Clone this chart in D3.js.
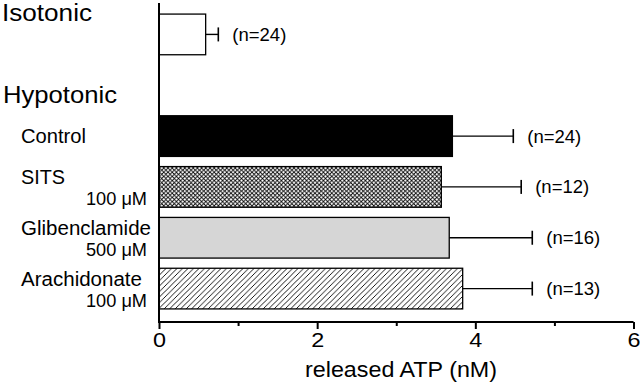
<!DOCTYPE html>
<html><head><meta charset="utf-8">
<script src="https://cdn.jsdelivr.net/npm/d3@7"></script>
<style>body{margin:0;background:#fff}svg{display:block}text{font-family:"Liberation Sans",Arial,sans-serif;fill:#000}</style>
</head><body>
<svg id="c" width="640" height="384"></svg>
<script>
const slots = ["Isotonic", "gap", "Control", "SITS", "Glibenclamide", "Arachidonate"];
const categories = ["Isotonic", "Control", "SITS", "Glibenclamide", "Arachidonate"];
const concentrations = ["", "", "100 \u03BCM", "500 \u03BCM", "100 \u03BCM"];
const means = [0.59, 3.71, 3.57, 3.67, 3.84];
const errors = [0.16, 0.77, 1.01, 1.05, 0.88];
const nLabels = ["(n=24)", "(n=24)", "(n=12)", "(n=16)", "(n=13)"];
const fills = ["white", "black", "url(#cross)", "#d6d6d6", "url(#hatch)"];
const groupHeaders = ["Isotonic", "Hypotonic"];
const xTicks = [0, 2, 4, 6];
const xMinorTicks = [1, 3, 5];
const xTitle = "released ATP (nM)";
const labelWidths = {"Control": 65, "SITS": 44, "Glibenclamide": 130, "Arachidonate": 121};

const svg = d3.select("#c");
const defs = svg.append("defs");
const cross = defs.append("pattern").attr("id","cross").attr("patternUnits","userSpaceOnUse").attr("width",4.2).attr("height",4.2);
cross.append("rect").attr("width",4.2).attr("height",4.2).attr("fill","white");
cross.append("path").attr("d","M0,0L4.2,4.2M4.2,0L0,4.2").attr("stroke","black").attr("stroke-width",0.85);
const hatch = defs.append("pattern").attr("id","hatch").attr("patternUnits","userSpaceOnUse").attr("width",5.5).attr("height",5.5);
hatch.append("rect").attr("width",5.5).attr("height",5.5).attr("fill","white");
hatch.append("path").attr("d","M0,5.5L5.5,0M-1.375,1.375L1.375,-1.375M4.125,6.875L6.875,4.125").attr("stroke","black").attr("stroke-width",0.9);

const x = d3.scaleLinear().domain([0, 6]).range([159, 633.5]);
const y = d3.scaleBand().domain(slots).range([9, 314]).paddingInner(0.2).paddingOuter(0.1);
const bw = y.bandwidth();
const cy = c => y(c) + bw / 2;

svg.selectAll("rect.bar").data(categories).join("rect").attr("class","bar")
  .attr("x", x(0)).attr("y", c => y(c))
  .attr("width", (c,i) => x(means[i]) - x(0)).attr("height", bw)
  .attr("fill", (c,i) => fills[i]).attr("stroke","black").attr("stroke-width",1.3);

categories.forEach((c,i) => {
  const e = means[i] + errors[i];
  svg.append("line").attr("x1", x(means[i])).attr("x2", x(e)).attr("y1", cy(c)).attr("y2", cy(c)).attr("stroke","black").attr("stroke-width",1.4);
  svg.append("line").attr("x1", x(e)).attr("x2", x(e)).attr("y1", cy(c)-7).attr("y2", cy(c)+7).attr("stroke","black").attr("stroke-width",1.6);
  svg.append("text").attr("x", x(e) + 14).attr("y", cy(c) + 6.5).attr("font-size", 18.5)
    .attr("textLength",54).attr("lengthAdjust","spacingAndGlyphs").text(nLabels[i]);
});

const xAxis = svg.append("g").attr("transform", `translate(0,322)`)
  .call(d3.axisBottom(x).tickValues(xTicks).tickFormat(d3.format("d")).tickSize(7).tickPadding(4));
xAxis.select(".domain").attr("stroke-width",2).attr("d", `M${x(0)},0H${x(6)}`);
xAxis.selectAll(".tick line").attr("stroke-width",2);
xAxis.selectAll(".tick text").attr("font-size",20).attr("font-family","Liberation Sans, Arial, sans-serif").attr("textLength",13).attr("lengthAdjust","spacingAndGlyphs");
svg.append("g").attr("transform", `translate(0,322)`)
  .call(d3.axisBottom(x).tickValues(xMinorTicks).tickFormat("").tickSize(4))
  .call(g => g.select(".domain").remove())
  .selectAll(".tick line").attr("stroke-width",2);
svg.append("line").attr("x1", x(0)).attr("x2", x(0)).attr("y1", 3).attr("y2", 323).attr("stroke","black").attr("stroke-width",2);

svg.append("text").attr("x", 401).attr("y", 377).attr("text-anchor","middle").attr("font-size",22)
  .attr("textLength",192).attr("lengthAdjust","spacingAndGlyphs").text(xTitle);

svg.append("text").attr("x", 2).attr("y", cy("Isotonic") - 13).attr("font-size",23)
  .attr("textLength",90).attr("lengthAdjust","spacingAndGlyphs").text(groupHeaders[0]);
svg.append("text").attr("x", 3).attr("y", cy("gap") + 18).attr("font-size",24)
  .attr("textLength",114).attr("lengthAdjust","spacingAndGlyphs").text(groupHeaders[1]);

categories.forEach((c,i) => {
  if (i === 0) return;
  const hasConc = concentrations[i] !== "";
  svg.append("text").attr("x", 21).attr("y", cy(c) + (hasConc ? -2.5 : 7)).attr("font-size",20)
    .attr("textLength", labelWidths[c]).attr("lengthAdjust","spacingAndGlyphs").text(c);
  if (hasConc) svg.append("text").attr("x", 147).attr("y", cy(c) + 18.5).attr("text-anchor","end").attr("font-size",18.5)
    .attr("textLength",61).attr("lengthAdjust","spacingAndGlyphs").text(concentrations[i]);
});
</script>
</body></html>
